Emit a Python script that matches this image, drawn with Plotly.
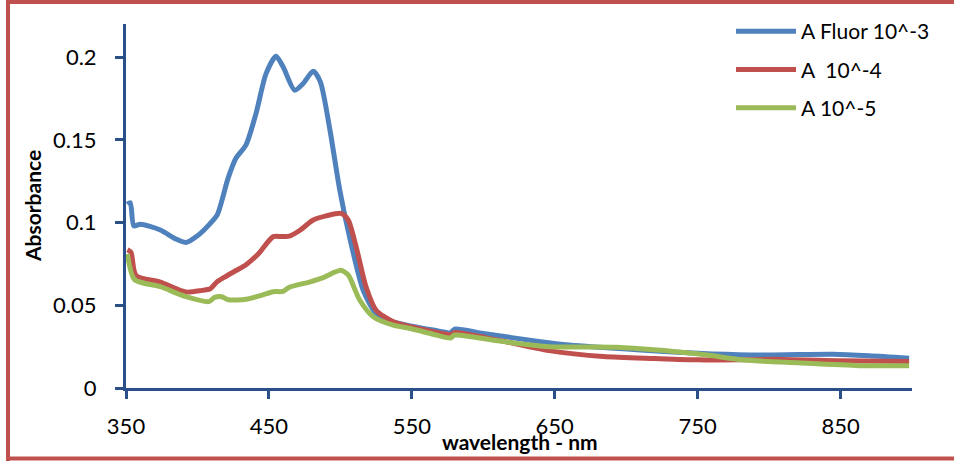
import plotly.graph_objects as go

# ---- data ----
wl_a3 = [351, 353, 355.5, 360, 374, 385, 392, 400, 409, 414, 421.5, 427, 434, 441, 448, 455, 460,
         468, 474, 481, 486, 492.5, 499.5, 506.5, 516, 525, 537, 549, 565, 577, 580, 600, 640,
         660, 710, 750, 786, 820, 845, 870, 898]
abs_a3 = [0.111, 0.112, 0.098, 0.099, 0.0955, 0.090, 0.088, 0.092, 0.0995, 0.105, 0.127, 0.139,
          0.147, 0.166, 0.190, 0.2005, 0.194, 0.180, 0.184, 0.1915, 0.185, 0.157, 0.120, 0.091,
          0.059, 0.045, 0.040, 0.0375, 0.035, 0.0334, 0.0356, 0.033, 0.028, 0.026, 0.023, 0.021,
          0.020, 0.0202, 0.0204, 0.0195, 0.018]

wl_a4 = [351, 353.5, 357, 374, 392, 403, 409, 413.5, 419, 427, 434, 442.5, 453, 459, 465, 472,
         481, 490, 500.5, 505.5, 511, 518, 525, 537, 549, 565, 577, 580, 610, 646, 684, 720,
         751, 809, 850, 898]
abs_a4 = [0.0835, 0.082, 0.068, 0.064, 0.058, 0.059, 0.060, 0.064, 0.067, 0.071, 0.0745, 0.081,
          0.0915, 0.0915, 0.092, 0.0955, 0.1015, 0.104, 0.1055, 0.1015, 0.0855, 0.061, 0.047,
          0.040, 0.037, 0.034, 0.0322, 0.0335, 0.029, 0.0226, 0.019, 0.0178, 0.017, 0.0173,
          0.0165, 0.016]

wl_a5 = [351, 356, 374, 392, 408, 412, 417, 421.5, 434, 444, 453, 460, 464, 479, 488, 496,
         500.5, 505.5, 513.5, 523, 537, 549, 565, 577, 580, 610, 646, 693, 751, 783, 820, 863, 898]
abs_a5 = [0.081, 0.0655, 0.0612, 0.0552, 0.0522, 0.0548, 0.0552, 0.0533, 0.0536, 0.0558, 0.0582,
          0.0584, 0.0608, 0.0642, 0.0667, 0.070, 0.0712, 0.0683, 0.0532, 0.0431, 0.038, 0.036,
          0.0325, 0.0302, 0.032, 0.0285, 0.025, 0.0246, 0.0205, 0.0169, 0.0152, 0.0135, 0.0135]

names = ["A Fluor 10^-3", "A  10^-4", "A 10^-5"]
colors = ["#4F81BD", "#C0504D", "#9BBB59"]

x_ticks = [350, 450, 550, 650, 750, 850]
y_ticks = [0, 0.05, 0.1, 0.15, 0.2]

FONT = "Lato"
AXIS = "#2B5089"

fig = go.Figure()
for i, (x, y) in enumerate([(wl_a3, abs_a3), (wl_a4, abs_a4), (wl_a5, abs_a5)]):
    fig.add_trace(go.Scatter(
        x=x, y=y, mode="lines", name=names[i], legendgroup=f"g{i}",
        line=dict(color=colors[i], width=5, shape="spline", smoothing=0.7),
    ))

# plot area: left 126, right 912, top 24, bottom 388
L, R, T, B = 126, 912, 24, 388
W, H = 954, 461
pw, ph = R - L, B - T

def px(xp):
    return (xp - L) / pw

def py(yp):
    return (B - yp) / ph

border = "#C0504D"
shapes = [
    dict(type="line", xref="paper", yref="paper", x0=px(8), x1=px(954), y0=py(2), y1=py(2),
         line=dict(color=border, width=4)),
    dict(type="line", xref="paper", yref="paper", x0=px(8), x1=px(954), y0=py(458.5), y1=py(458.5),
         line=dict(color=border, width=4)),
    dict(type="line", xref="paper", yref="paper", x0=px(8), x1=px(8), y0=py(0), y1=py(461),
         line=dict(color=border, width=4)),
]

annotations = [
    dict(text="<b>wavelength - nm</b>", xref="paper", yref="paper", x=px(520), y=py(442),
         xanchor="center", yanchor="middle", showarrow=False,
         font=dict(family=FONT, size=21, color="#000000")),
    dict(text="<b>Absorbance</b>", xref="paper", yref="paper", x=px(32), y=py(206),
         xanchor="center", yanchor="middle", showarrow=False, textangle=-90,
         font=dict(family=FONT, size=21, color="#000000")),
]

fig.update_layout(
    width=W, height=H,
    margin=dict(l=L, r=W - R, t=T, b=H - B, autoexpand=False),
    paper_bgcolor="white", plot_bgcolor="white",
    font=dict(family=FONT, size=21, color="#000000"),
    shapes=shapes, annotations=annotations,
    legend=dict(x=px(731), y=py(11), xanchor="left", yanchor="top",
                font=dict(family=FONT, size=21, color="#000000"),
                bgcolor="rgba(0,0,0,0)", tracegroupgap=8, itemwidth=60),
    showlegend=True,
)
fig.update_xaxes(range=[350, 900], tickvals=x_ticks, ticktext=[str(v) for v in x_ticks],
                 showgrid=False, zeroline=False, showline=True, linecolor=AXIS, linewidth=3,
                 ticks="outside", ticklen=8, tickwidth=3, tickcolor=AXIS,
                 tickfont=dict(family=FONT, size=22, color="#000000"), ticklabelstandoff=9)
fig.update_yaxes(range=[0, 0.22], tickvals=y_ticks, ticktext=["0", "0.05", "0.1", "0.15", "0.2"],
                 showgrid=False, zeroline=False, showline=True, linecolor=AXIS, linewidth=3,
                 ticks="outside", ticklen=8, tickwidth=3, tickcolor=AXIS,
                 tickfont=dict(family=FONT, size=22, color="#000000"), ticklabelstandoff=14)

fig.write_html("out.html", config={"displayModeBar": False},
               post_script="document.body.style.margin='0';document.body.style.padding='0';")
